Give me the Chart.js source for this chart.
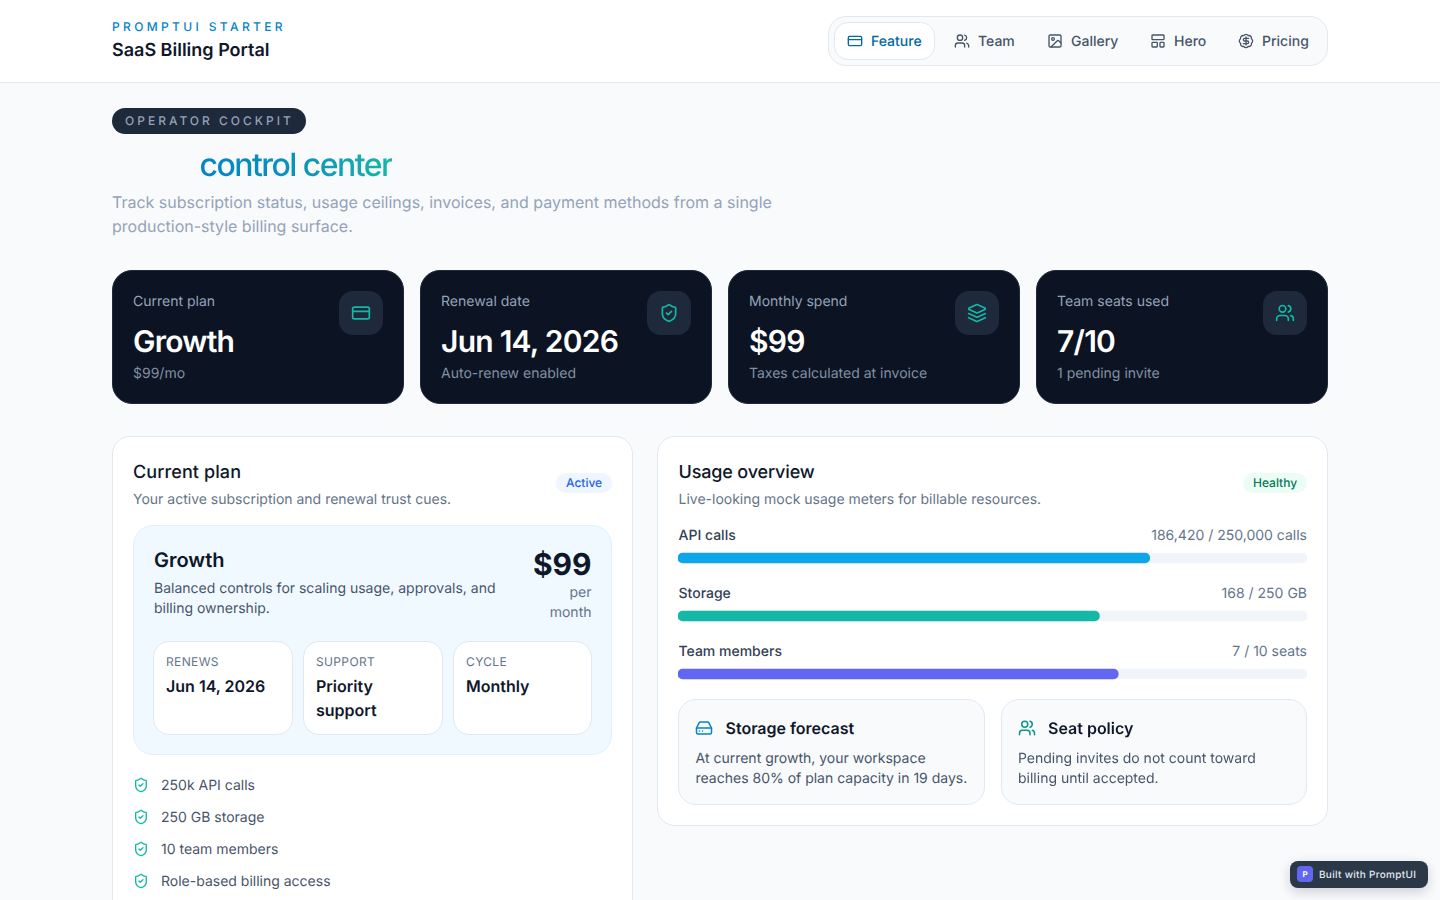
<!DOCTYPE html>
<html lang="en"><head><meta charset="utf-8"><title>SaaS Billing Portal</title>
<script src="https://cdn.jsdelivr.net/npm/chart.js@4/dist/chart.umd.js"></script>
<style>
*{box-sizing:border-box;margin:0;padding:0}
html,body{width:1440px;height:900px;overflow:hidden;background:#f8fafc;font-family:Inter,sans-serif;color:#0f172a;text-rendering:geometricPrecision}
.a{position:absolute;white-space:nowrap;line-height:20px}
.box{position:absolute}
svg.i{position:absolute;fill:none;stroke:currentColor;stroke-width:2;stroke-linecap:round;stroke-linejoin:round}
.stat{position:absolute;top:270px;width:292px;height:134px;background:#0c1423;border:1px solid #1e293b;border-radius:20px}
.tile{position:absolute;width:44px;height:44px;background:#1e293b;border-radius:14px;top:291px}
.mini{position:absolute;top:641px;height:94px;background:#fff;border:1px solid #e2e8f0;border-radius:16px}
.ml{font-size:12px;color:#64748b;letter-spacing:.03em;top:652px}
.mv{font-size:16px;font-weight:600;line-height:24px;color:#0f172a}
.li{font-size:14px;color:#475569;left:161px}
.sl{font-size:14px;color:#94a3b8;top:292px}
.sv{font-size:30px;font-weight:600;color:#fff;letter-spacing:-.025em;top:332px}
.ss{font-size:14px;color:#8290a5;top:364px}
.nav{font-size:14px;font-weight:500;color:#475569;top:32px}
</style></head><body>

<div class="box" style="left:0;top:0;width:1440px;height:83px;background:#fff;border-bottom:1px solid #e2e8f0"></div>
<div class="a" style="left:112px;top:17px;font-size:12px;font-weight:500;letter-spacing:.28em;color:#0284c7">PROMPTUI STARTER</div>
<div class="a" style="left:112px;top:41px;font-size:18px;font-weight:600;color:#0f172a">SaaS Billing Portal</div>

<div class="box" style="left:828px;top:16px;width:500px;height:50px;background:#f8fafc;border:1px solid #e2e8f0;border-radius:18px"></div>
<div class="box" style="left:834px;top:22px;width:101px;height:38px;background:#fff;border:1px solid #e2e8f0;border-radius:14px"></div>
<div class="a nav" style="left:871px;color:#0369a1">Feature</div>
<div class="a nav" style="left:978px">Team</div>
<div class="a nav" style="left:1071px">Gallery</div>
<div class="a nav" style="left:1174px">Hero</div>
<div class="a nav" style="left:1262px">Pricing</div>
<span data-i="card" data-b="847,33,16,#0369a1"></span>
<span data-i="users" data-b="954,33,16,#475569"></span>
<span data-i="image" data-b="1047,33,16,#475569"></span>
<span data-i="layout" data-b="1150,33,16,#475569"></span>
<span data-i="badge" data-b="1238,33,16,#475569"></span>

<div class="box" style="left:112px;top:108px;width:194px;height:26px;background:#1e293b;border-radius:13px"></div>
<div class="a" style="left:125px;top:111px;font-size:12px;font-weight:500;letter-spacing:.25em;color:#94a3b8">OPERATOR COCKPIT</div>
<div class="a" style="left:199.5px;top:145px;line-height:40px;font-size:32px;font-weight:500;letter-spacing:-.048em;background:linear-gradient(90deg,#0284c7,#0e94b8 55%,#14b8a6);-webkit-background-clip:text;background-clip:text;color:transparent">control center</div>
<div class="a" style="left:112px;top:190px;font-size:16px;line-height:24px;color:#94a3b8">Track subscription status, usage ceilings, invoices, and payment methods from a single<br>production-style billing surface.</div>

<div class="stat" style="left:112px"></div><div class="stat" style="left:420px"></div><div class="stat" style="left:728px"></div><div class="stat" style="left:1036px"></div>
<div class="tile" style="left:339px"></div><div class="tile" style="left:647px"></div><div class="tile" style="left:955px"></div><div class="tile" style="left:1263px"></div>
<span data-i="card" data-b="351,303,20,#14b8a6"></span>
<span data-i="shield" data-b="659,303,20,#14b8a6"></span>
<span data-i="layers" data-b="967,303,20,#14b8a6"></span>
<span data-i="users" data-b="1275,303,20,#14b8a6"></span>
<div class="a sl" style="left:133px">Current plan</div><div class="a sv" style="left:133px">Growth</div><div class="a ss" style="left:133px">$99/mo</div>
<div class="a sl" style="left:441px">Renewal date</div><div class="a sv" style="left:441px">Jun 14, 2026</div><div class="a ss" style="left:441px">Auto-renew enabled</div>
<div class="a sl" style="left:749px">Monthly spend</div><div class="a sv" style="left:749px">$99</div><div class="a ss" style="left:749px">Taxes calculated at invoice</div>
<div class="a sl" style="left:1057px">Team seats used</div><div class="a sv" style="left:1057px">7/10</div><div class="a ss" style="left:1057px">1 pending invite</div>

<div class="box" style="left:112px;top:436px;width:521px;height:520px;background:#fff;border:1px solid #e2e8f0;border-radius:18px"></div>
<div class="a" style="left:133px;top:463px;font-size:18px;font-weight:500;letter-spacing:.1px">Current plan</div>
<div class="a" style="left:133px;top:490px;font-size:14px;color:#64748b">Your active subscription and renewal trust cues.</div>
<div class="box" style="left:556px;top:473px;width:56px;height:20px;background:#eff6ff;border-radius:10px"></div>
<div class="a" style="left:566px;top:473px;font-size:12px;font-weight:500;color:#2563eb">Active</div>

<div class="box" style="left:133px;top:525px;width:479px;height:230px;background:#f0f9ff;border:1px solid #e0f2fe;border-radius:20px"></div>
<div class="a" style="left:154px;top:550px;font-size:20px;font-weight:600;color:#0f172a">Growth</div>
<div class="a" style="left:154px;top:579px;font-size:14px;color:#475569">Balanced controls for scaling usage, approvals, and<br>billing ownership.</div>
<div class="a" style="right:848.5px;top:555px;font-size:30px;font-weight:700;color:#0f172a">$99</div>
<div class="a" style="right:848.5px;top:583px;font-size:14px;color:#64748b;text-align:right">per<br>month</div>
<div class="mini" style="left:153px;width:140px"></div><div class="mini" style="left:303px;width:140px"></div><div class="mini" style="left:453px;width:139px"></div>
<div class="a ml" style="left:166px">RENEWS</div><div class="a mv" style="left:166px;top:674px">Jun 14, 2026</div>
<div class="a ml" style="left:316px">SUPPORT</div><div class="a mv" style="left:316px;top:674px">Priority<br>support</div>
<div class="a ml" style="left:466px">CYCLE</div><div class="a mv" style="left:466px;top:674px">Monthly</div>
<span data-i="shield" data-b="133,777,16,#14b8a6"></span><div class="a li" style="top:776px">250k API calls</div>
<span data-i="shield" data-b="133,809,16,#14b8a6"></span><div class="a li" style="top:808px">250 GB storage</div>
<span data-i="shield" data-b="133,841,16,#14b8a6"></span><div class="a li" style="top:840px">10 team members</div>
<span data-i="shield" data-b="133,873,16,#14b8a6"></span><div class="a li" style="top:872px">Role-based billing access</div>

<div class="box" style="left:657px;top:436px;width:671px;height:390px;background:#fff;border:1px solid #e2e8f0;border-radius:18px"></div>
<div class="a" style="left:678.5px;top:463px;font-size:18px;font-weight:500;letter-spacing:-.15px">Usage overview</div>
<div class="a" style="left:678.5px;top:490px;font-size:14px;color:#64748b">Live-looking mock usage meters for billable resources.</div>
<div class="box" style="left:1243px;top:473px;width:64px;height:20px;background:#ecfdf5;border-radius:10px"></div>
<div class="a" style="left:1253px;top:473px;font-size:12px;font-weight:500;color:#047857">Healthy</div>
<div id="usageText"></div>
<div class="box" style="left:678px;top:529px;width:629px;height:174px"><canvas id="usage"></canvas></div>

<div class="box" style="left:678px;top:699px;width:307px;height:106px;background:#f8fafc;border:1px solid #e2e8f0;border-radius:18px"></div>
<div class="box" style="left:1001px;top:699px;width:306px;height:106px;background:#f8fafc;border:1px solid #e2e8f0;border-radius:18px"></div>
<span data-i="drive" data-b="695,719,18,#0284c7"></span>
<span data-i="users" data-b="1018,719,18,#0d9488"></span>
<div class="a" style="left:725.5px;top:718px;font-size:16px;font-weight:600">Storage forecast</div>
<div class="a" style="left:1048px;top:718px;font-size:16px;font-weight:600">Seat policy</div>
<div class="a" style="left:695.5px;top:749px;font-size:14px;color:#475569">At current growth, your workspace<br>reaches 80% of plan capacity in 19 days.</div>
<div class="a" style="left:1018px;top:749px;font-size:14px;color:#475569">Pending invites do not count toward<br>billing until accepted.</div>

<div class="box" style="left:1290px;top:861px;width:138px;height:27px;background:#2b3848;border-radius:8px;box-shadow:0 4px 12px rgba(15,23,42,.18)"></div>
<div class="box" style="left:1297px;top:866px;width:16px;height:16px;background:#6366f1;border-radius:4px;color:#fff;font-size:8px;font-weight:700;line-height:16px;text-align:center">P</div>
<div class="a" style="left:1319px;top:865px;font-size:10px;font-weight:500;letter-spacing:.03em;color:#e2e8f0">Built with PromptUI</div>

<script>
const usageLabels = ["API calls", "Storage", "Team members"];
const usageReadouts = ["186,420 / 250,000 calls", "168 / 250 GB", "7 / 10 seats"];
const usagePercent = [75, 67, 70];
const usageCapacity = [100, 100, 100];
const usageColors = ["#0ea5e9", "#14b8a6", "#6366f1"];
const trackColor = "#f1f5f9";
const rowTops = [526, 584, 642];

const icons = {
 card:'<rect x="2" y="5" width="20" height="14" rx="2"/><line x1="2" y1="10" x2="22" y2="10"/>',
 users:'<path d="M16 21v-2a4 4 0 0 0-4-4H6a4 4 0 0 0-4 4v2"/><circle cx="9" cy="7" r="4"/><path d="M22 21v-2a4 4 0 0 0-3-3.87"/><path d="M16 3.13a4 4 0 0 1 0 7.75"/>',
 image:'<rect x="3" y="3" width="18" height="18" rx="2"/><circle cx="9" cy="9" r="2"/><path d="m21 15-3.086-3.086a2 2 0 0 0-2.828 0L6 21"/>',
 layout:'<rect x="3" y="3" width="18" height="7" rx="1"/><rect x="3" y="14" width="8" height="7" rx="1"/><rect x="15" y="14" width="6" height="7" rx="1"/>',
 badge:'<path d="M3.85 8.62a4 4 0 0 1 4.78-4.77 4 4 0 0 1 6.74 0 4 4 0 0 1 4.78 4.78 4 4 0 0 1 0 6.74 4 4 0 0 1-4.77 4.78 4 4 0 0 1-6.75 0 4 4 0 0 1-4.78-4.77 4 4 0 0 1 0-6.76Z"/><path d="M16 8h-6a2 2 0 1 0 0 4h4a2 2 0 1 1 0 4H8"/><path d="M12 18V6"/>',
 shield:'<path d="M20 13c0 5-3.5 7.5-7.66 8.95a1 1 0 0 1-.67-.01C7.5 20.5 4 18 4 13V6a1 1 0 0 1 1-1c2 0 4.5-1.2 6.24-2.72a1.17 1.17 0 0 1 1.52 0C14.51 3.81 17 5 19 5a1 1 0 0 1 1 1z"/><path d="m9 12 2 2 4-4"/>',
 layers:'<path d="m12.83 2.18a2 2 0 0 0-1.66 0L2.6 6.08a1 1 0 0 0 0 1.83l8.58 3.91a2 2 0 0 0 1.66 0l8.58-3.9a1 1 0 0 0 0-1.83Z"/><path d="m22 17.65-9.17 4.16a2 2 0 0 1-1.66 0L2 17.65"/><path d="m22 12.65-9.17 4.16a2 2 0 0 1-1.66 0L2 12.65"/>',
 drive:'<line x1="22" y1="12" x2="2" y2="12"/><path d="M5.45 5.11 2 12v6a2 2 0 0 0 2 2h16a2 2 0 0 0 2-2v-6l-3.45-6.89A2 2 0 0 0 16.76 4H7.24a2 2 0 0 0-1.79 1.11z"/><line x1="6" y1="16" x2="6.01" y2="16"/><line x1="10" y1="16" x2="10.01" y2="16"/>'
};
document.querySelectorAll('span[data-i]').forEach(s => {
  const [x, y, size, color] = s.dataset.b.split(',');
  s.outerHTML = `<svg class="i" viewBox="0 0 24 24" width="${size}" height="${size}" style="left:${x}px;top:${y}px;color:${color}">${icons[s.dataset.i]}</svg>`;
});

document.getElementById('usageText').innerHTML = usageLabels.map((label, i) =>
  `<div class="a" style="left:678.5px;top:${rowTops[i]}px;font-size:14px;font-weight:500;color:#334155">${label}</div>` +
  `<div class="a" style="right:133px;top:${rowTops[i]}px;font-size:14px;color:#64748b">${usageReadouts[i]}</div>`
).join('');

new Chart(document.getElementById('usage'), {
  type: 'bar',
  data: {
    labels: usageLabels,
    datasets: [
      { label: 'Used', data: usagePercent, backgroundColor: usageColors, order: 1 },
      { label: 'Capacity', data: usageCapacity, backgroundColor: trackColor, order: 2 }
    ]
  },
  options: {
    indexAxis: 'y',
    responsive: true,
    maintainAspectRatio: false,
    animation: false,
    layout: { padding: 0 },
    datasets: { bar: { grouped: false, barThickness: 10, borderRadius: 5, borderSkipped: false } },
    scales: {
      x: { display: false, min: 0, max: 100 },
      y: { display: false }
    },
    plugins: { legend: { display: false }, tooltip: { enabled: false } }
  }
});
</script>
</body></html>
